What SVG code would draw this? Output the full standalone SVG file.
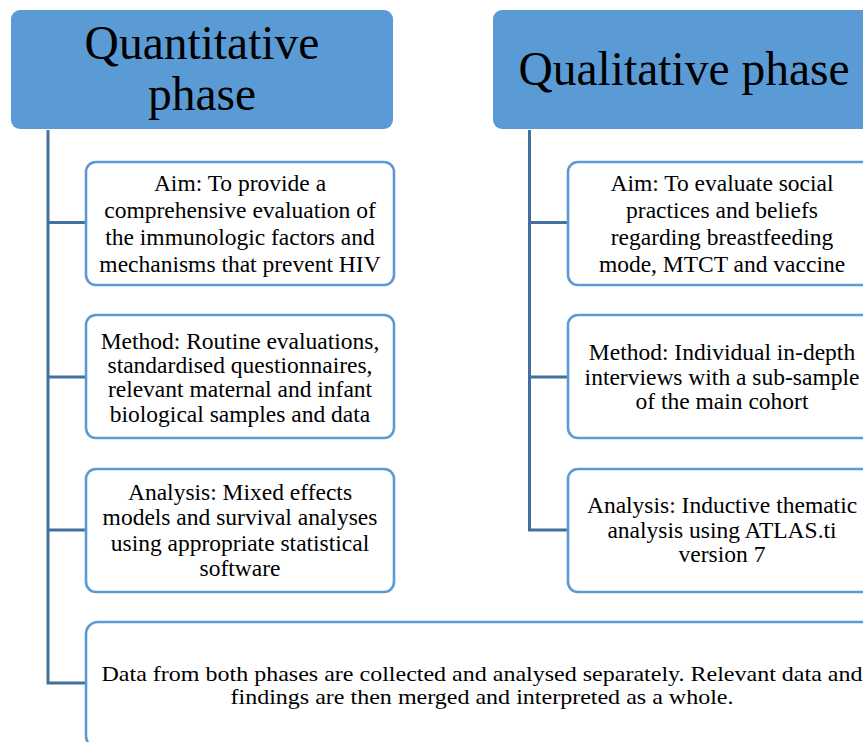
<svg xmlns="http://www.w3.org/2000/svg" width="863" height="742" viewBox="0 0 863 742">
<style>
.hdr{fill:#5B9BD5;stroke:none}
.box{fill:#FFFFFF;stroke:#5B9BD5;stroke-width:2.6}
.conn{fill:none;stroke:#41719C;stroke-width:3}
.ht{font-family:"Liberation Serif","Times New Roman",serif;font-size:47.5px;fill:#000;text-anchor:middle}
.bt{font-family:"Liberation Serif","Times New Roman",serif;font-size:23.5px;fill:#000;text-anchor:middle}
.ft{font-family:"Liberation Serif","Times New Roman",serif;font-size:22px;fill:#000;text-anchor:middle}
</style>
<rect width="863" height="742" fill="#FFFFFF"/>
<g id="connectors">
<path class="conn" d="M48,130 V683 H86 M48,222.5 H86 M48,377 H86 M48,530 H86"/>
<path class="conn" d="M529.5,130 V530 H568 M529.5,222.5 H568 M529.5,377 H568"/>
</g>
<g id="quantitative-header">
<rect class="hdr" x="11" y="10" width="382" height="119" rx="9"/>
<text class="ht" x="202" y="59">Quantitative</text>
<text class="ht" x="202" y="110">phase</text>
</g>
<g id="qualitative-header">
<rect class="hdr" x="493" y="10" width="382" height="119" rx="9"/>
<text class="ht" x="684" y="85">Qualitative phase</text>
</g>
<g id="quant-aim">
<rect class="box" x="86" y="162" width="308" height="123" rx="10"/>
<text class="bt" x="240" y="190.5">Aim: To provide a</text>
<text class="bt" x="240" y="217.8">comprehensive evaluation of</text>
<text class="bt" x="240" y="245">the immunologic factors and</text>
<text class="bt" x="240" y="272">mechanisms that prevent HIV</text>
</g>
<g id="quant-method">
<rect class="box" x="86" y="315" width="308" height="123" rx="10"/>
<text class="bt" x="240" y="348.5">Method: Routine evaluations,</text>
<text class="bt" x="240" y="373">standardised questionnaires,</text>
<text class="bt" x="240" y="397">relevant maternal and infant</text>
<text class="bt" x="240" y="421.5">biological samples and data</text>
</g>
<g id="quant-analysis">
<rect class="box" x="86" y="469" width="308" height="123" rx="10"/>
<text class="bt" x="240" y="500">Analysis: Mixed effects</text>
<text class="bt" x="240" y="525">models and survival analyses</text>
<text class="bt" x="240" y="550.5">using appropriate statistical</text>
<text class="bt" x="240" y="576">software</text>
</g>
<g id="qual-aim">
<rect class="box" x="568" y="162" width="308" height="123" rx="10"/>
<text class="bt" x="722" y="190.5">Aim: To evaluate social</text>
<text class="bt" x="722" y="217.8">practices and beliefs</text>
<text class="bt" x="722" y="245">regarding breastfeeding</text>
<text class="bt" x="722" y="272">mode, MTCT and vaccine</text>
</g>
<g id="qual-method">
<rect class="box" x="568" y="315" width="308" height="123" rx="10"/>
<text class="bt" x="722" y="360">Method: Individual in-depth</text>
<text class="bt" x="722" y="384.5">interviews with a sub-sample</text>
<text class="bt" x="722" y="409">of the main cohort</text>
</g>
<g id="qual-analysis">
<rect class="box" x="568" y="469" width="308" height="123" rx="10"/>
<text class="bt" x="722" y="513">Analysis: Inductive thematic</text>
<text class="bt" x="722" y="537.5">analysis using ATLAS.ti</text>
<text class="bt" x="722" y="562">version 7</text>
</g>
<g id="merge">
<rect class="box" x="86" y="622" width="792" height="126" rx="12"/>
<text class="ft" x="482" y="680.5" textLength="761" lengthAdjust="spacingAndGlyphs">Data from both phases are collected and analysed separately. Relevant data and</text>
<text class="ft" x="482" y="704" textLength="503" lengthAdjust="spacingAndGlyphs">findings are then merged and interpreted as a whole.</text>
</g>
</svg>
